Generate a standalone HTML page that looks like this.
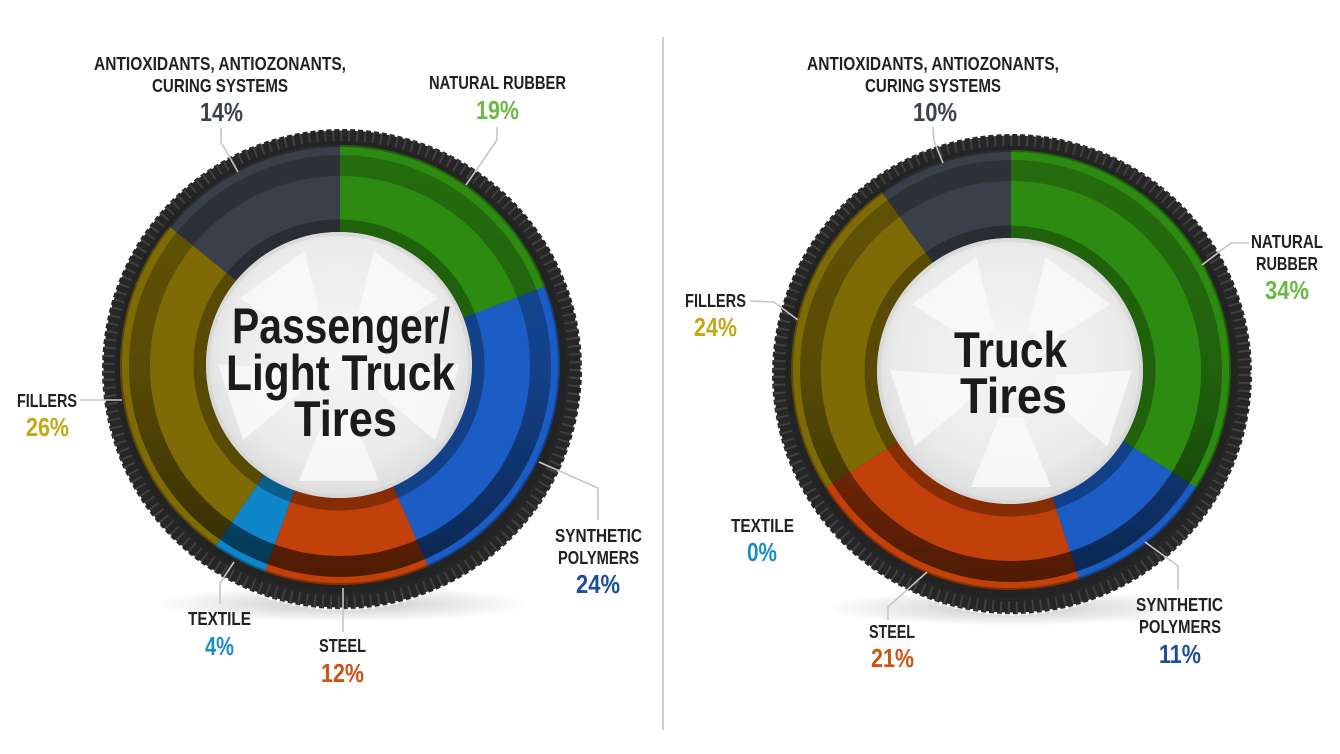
<!DOCTYPE html>
<html>
<head>
<meta charset="utf-8">
<style>
  html,body{margin:0;padding:0;background:#fff;}
  svg{display:block;}
  .lbl{font-family:"Liberation Sans",Arial,sans-serif;font-weight:bold;font-size:18px;fill:#222;}
  .pct{font-family:"Liberation Sans",Arial,sans-serif;font-weight:bold;font-size:26px;}
  .ctr{font-family:"Liberation Sans",Arial,sans-serif;font-weight:bold;font-size:50px;fill:#1b1b1b;}
  .ld{fill:none;stroke:#c6c6c6;stroke-width:1.6;}
</style>
</head>
<body>
<svg width="1340" height="754" viewBox="0 0 1340 754" xmlns="http://www.w3.org/2000/svg">
  <defs>
    <radialGradient id="shadow" cx="50%" cy="50%" r="50%">
      <stop offset="0" stop-color="#000" stop-opacity="0.22"/>
      <stop offset="1" stop-color="#000" stop-opacity="0"/>
    </radialGradient>
    <linearGradient id="band" x1="0" y1="0" x2="0" y2="1">
      <stop offset="0" stop-color="#000" stop-opacity="0.22"/>
      <stop offset="0.5" stop-color="#000" stop-opacity="0.3"/>
      <stop offset="1" stop-color="#000" stop-opacity="0.58"/>
    </linearGradient>
    <radialGradient id="hub" cx="50%" cy="45%" r="55%">
      <stop offset="0" stop-color="#f6f6f6"/>
      <stop offset="0.75" stop-color="#ebebeb"/>
      <stop offset="1" stop-color="#dddddd"/>
    </radialGradient>
  </defs>

  <!-- divider -->
  <line x1="663" y1="37" x2="663" y2="730" stroke="#cfcfcf" stroke-width="2"/>

  <!-- ================= LEFT TIRE ================= -->
  <ellipse cx="342" cy="604" rx="190" ry="18" fill="url(#shadow)"/>
  <circle cx="342" cy="369" r="240" fill="#262626"/>
  <circle cx="342" cy="369" r="233" fill="none" stroke="#5a5a5a" stroke-width="12" stroke-dasharray="2 6" opacity="0.5"/>
  <circle cx="342" cy="369" r="240" fill="none" stroke="#fff" stroke-width="3" stroke-dasharray="3 5"/>
  <circle cx="341" cy="367" r="226" fill="#232323"/>

  <path d="M340,365 L340,145 A220,220 0 0 1 545.5,286.5 Z" fill="#2e8b12"/>
  <path d="M340,365 L545.5,286.5 A220,220 0 0 1 428.2,566.5 Z" fill="#1b5dc4"/>
  <path d="M340,365 L428.2,566.5 A220,220 0 0 1 264.8,571.7 Z" fill="#c2410a"/>
  <path d="M340,365 L264.8,571.7 A220,220 0 0 1 215.2,546.2 Z" fill="#0f86c9"/>
  <path d="M340,365 L215.2,546.2 A220,220 0 0 1 169.3,226.2 Z" fill="#7e6b06"/>
  <path d="M340,365 L169.3,226.2 A220,220 0 0 1 340,145 Z" fill="#3a4049"/>

  <circle cx="340" cy="365" r="219" fill="none" stroke="#000" stroke-opacity="0.3" stroke-width="2"/>
  <circle cx="340" cy="366" r="200.5" fill="none" stroke="url(#band)" stroke-width="21"/>
  <circle cx="339" cy="365" r="139" fill="none" stroke="#000" stroke-opacity="0.3" stroke-width="13"/>

  <circle cx="339" cy="365" r="133" fill="url(#hub)"/>
  <g transform="translate(339,367)" fill="#fafafa" opacity="0.85">
    <polygon points="-12,45 12,45 40,114 -40,114"/>
    <polygon points="-12,45 12,45 40,114 -40,114" transform="rotate(72)"/>
    <polygon points="-12,45 12,45 40,114 -40,114" transform="rotate(144)"/>
    <polygon points="-12,45 12,45 40,114 -40,114" transform="rotate(216)"/>
    <polygon points="-12,45 12,45 40,114 -40,114" transform="rotate(288)"/>
  </g>
  <circle cx="339" cy="365" r="131" fill="none" stroke="#d2d2d2" stroke-width="4" opacity="0.6"/>

  <text class="ctr" x="232" y="343" textLength="218" lengthAdjust="spacingAndGlyphs">Passenger/</text>
  <text class="ctr" x="226" y="390" textLength="229" lengthAdjust="spacingAndGlyphs">Light Truck</text>
  <text class="ctr" x="294" y="436" textLength="103" lengthAdjust="spacingAndGlyphs">Tires</text>

  <!-- left leaders -->
  <polyline class="ld" points="221,128 221,142 238,172"/>
  <polyline class="ld" points="497,127 497,140 466,185"/>
  <polyline class="ld" points="80,400 122,400"/>
  <polyline class="ld" points="220,604 220,583 234,562"/>
  <polyline class="ld" points="343,632 343,588"/>
  <polyline class="ld" points="598,520 598,488 539,462"/>

  <!-- left labels -->
  <text class="lbl" x="94" y="70" textLength="252" lengthAdjust="spacingAndGlyphs">ANTIOXIDANTS, ANTIOZONANTS,</text>
  <text class="lbl" x="152" y="92" textLength="136" lengthAdjust="spacingAndGlyphs">CURING SYSTEMS</text>
  <text class="pct" x="200" y="121" textLength="43" lengthAdjust="spacingAndGlyphs" fill="#3c424c">14%</text>

  <text class="lbl" x="429" y="89" textLength="137" lengthAdjust="spacingAndGlyphs">NATURAL RUBBER</text>
  <text class="pct" x="476" y="119" textLength="43" lengthAdjust="spacingAndGlyphs" fill="#6cb845">19%</text>

  <text class="lbl" x="17" y="407" textLength="60" lengthAdjust="spacingAndGlyphs">FILLERS</text>
  <text class="pct" x="26" y="436" textLength="43" lengthAdjust="spacingAndGlyphs" fill="#c6a612">26%</text>

  <text class="lbl" x="188" y="625" textLength="63" lengthAdjust="spacingAndGlyphs">TEXTILE</text>
  <text class="pct" x="205" y="655" textLength="29" lengthAdjust="spacingAndGlyphs" fill="#1a8ccc">4%</text>

  <text class="lbl" x="319" y="652" textLength="47" lengthAdjust="spacingAndGlyphs">STEEL</text>
  <text class="pct" x="321" y="682" textLength="43" lengthAdjust="spacingAndGlyphs" fill="#cc5312">12%</text>

  <text class="lbl" x="555" y="542" textLength="87" lengthAdjust="spacingAndGlyphs">SYNTHETIC</text>
  <text class="lbl" x="558" y="564" textLength="81" lengthAdjust="spacingAndGlyphs">POLYMERS</text>
  <text class="pct" x="576" y="593" textLength="44" lengthAdjust="spacingAndGlyphs" fill="#1b4e9b">24%</text>

  <!-- ================= RIGHT TIRE ================= -->
  <ellipse cx="1012" cy="608" rx="190" ry="18" fill="url(#shadow)"/>
  <circle cx="1012" cy="374" r="240" fill="#262626"/>
  <circle cx="1012" cy="374" r="233" fill="none" stroke="#5a5a5a" stroke-width="12" stroke-dasharray="2 6" opacity="0.5"/>
  <circle cx="1012" cy="374" r="240" fill="none" stroke="#fff" stroke-width="3" stroke-dasharray="3 5"/>
  <circle cx="1011" cy="372" r="226" fill="#232323"/>

  <path d="M1011,370 L1011,150 A220,220 0 0 1 1196.7,487.9 Z" fill="#2e8b12"/>
  <path d="M1011,370 L1196.7,487.9 A220,220 0 0 1 1079,579.2 Z" fill="#1b5dc4"/>
  <path d="M1011,370 L1079,579.2 A220,220 0 0 1 825.3,487.9 Z" fill="#c2410a"/>
  <path d="M1011,370 L825.3,487.9 A220,220 0 0 1 881.7,192 Z" fill="#7e6b06"/>
  <path d="M1011,370 L881.7,192 A220,220 0 0 1 1011,150 Z" fill="#3a4049"/>

  <circle cx="1011" cy="370" r="219" fill="none" stroke="#000" stroke-opacity="0.3" stroke-width="2"/>
  <circle cx="1011" cy="371" r="200.5" fill="none" stroke="url(#band)" stroke-width="21"/>
  <circle cx="1010" cy="371" r="139" fill="none" stroke="#000" stroke-opacity="0.3" stroke-width="13"/>

  <circle cx="1010" cy="371" r="133" fill="url(#hub)"/>
  <g transform="translate(1011,373)" fill="#fafafa" opacity="0.85">
    <polygon points="-12,45 12,45 40,114 -40,114"/>
    <polygon points="-12,45 12,45 40,114 -40,114" transform="rotate(72)"/>
    <polygon points="-12,45 12,45 40,114 -40,114" transform="rotate(144)"/>
    <polygon points="-12,45 12,45 40,114 -40,114" transform="rotate(216)"/>
    <polygon points="-12,45 12,45 40,114 -40,114" transform="rotate(288)"/>
  </g>
  <circle cx="1010" cy="371" r="131" fill="none" stroke="#d2d2d2" stroke-width="4" opacity="0.6"/>

  <text class="ctr" x="954" y="367" textLength="113" lengthAdjust="spacingAndGlyphs">Truck</text>
  <text class="ctr" x="960" y="413" textLength="107" lengthAdjust="spacingAndGlyphs">Tires</text>

  <!-- right leaders -->
  <polyline class="ld" points="933,127 934,141 943,163"/>
  <polyline class="ld" points="1249,243 1231,243 1202,265"/>
  <polyline class="ld" points="750,301 774,302 798,320"/>
  <polyline class="ld" points="888,620 888,607 927,572"/>
  <polyline class="ld" points="1178,590 1178,566 1145,542"/>

  <!-- right labels -->
  <text class="lbl" x="807" y="70" textLength="252" lengthAdjust="spacingAndGlyphs">ANTIOXIDANTS, ANTIOZONANTS,</text>
  <text class="lbl" x="865" y="92" textLength="136" lengthAdjust="spacingAndGlyphs">CURING SYSTEMS</text>
  <text class="pct" x="913" y="121" textLength="44" lengthAdjust="spacingAndGlyphs" fill="#3c424c">10%</text>

  <text class="lbl" x="1251" y="248" textLength="72" lengthAdjust="spacingAndGlyphs">NATURAL</text>
  <text class="lbl" x="1256" y="270" textLength="62" lengthAdjust="spacingAndGlyphs">RUBBER</text>
  <text class="pct" x="1265" y="299" textLength="44" lengthAdjust="spacingAndGlyphs" fill="#6cb845">34%</text>

  <text class="lbl" x="685" y="307" textLength="61" lengthAdjust="spacingAndGlyphs">FILLERS</text>
  <text class="pct" x="694" y="336" textLength="43" lengthAdjust="spacingAndGlyphs" fill="#c6a612">24%</text>

  <text class="lbl" x="731" y="532" textLength="63" lengthAdjust="spacingAndGlyphs">TEXTILE</text>
  <text class="pct" x="747" y="561" textLength="30" lengthAdjust="spacingAndGlyphs" fill="#1a8ccc">0%</text>

  <text class="lbl" x="869" y="638" textLength="46" lengthAdjust="spacingAndGlyphs">STEEL</text>
  <text class="pct" x="871" y="667" textLength="43" lengthAdjust="spacingAndGlyphs" fill="#cc5312">21%</text>

  <text class="lbl" x="1136" y="611" textLength="87" lengthAdjust="spacingAndGlyphs">SYNTHETIC</text>
  <text class="lbl" x="1139" y="633" textLength="82" lengthAdjust="spacingAndGlyphs">POLYMERS</text>
  <text class="pct" x="1159" y="663" textLength="42" lengthAdjust="spacingAndGlyphs" fill="#1b4e9b">11%</text>
</svg>
</body>
</html>
